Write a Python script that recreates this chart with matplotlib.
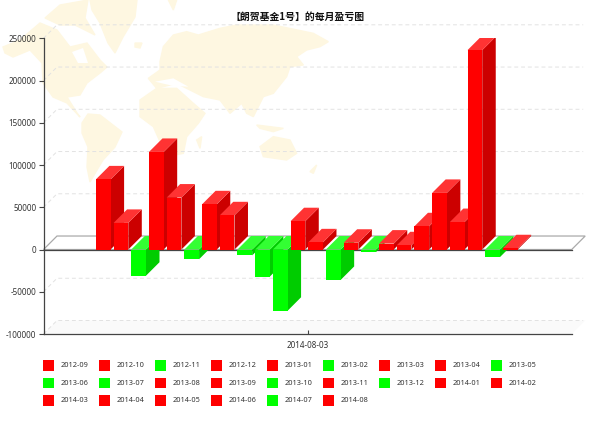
import matplotlib
matplotlib.use("Agg")
import matplotlib.pyplot as plt
from matplotlib.patches import Polygon, Rectangle

plt.rcParams['font.family'] = ['Noto Sans', 'DejaVu Sans']

months = ['2012-09', '2012-10', '2012-11', '2012-12', '2013-01', '2013-02', '2013-03', '2013-04',
          '2013-05', '2013-06', '2013-07', '2013-08', '2013-09', '2013-10', '2013-11', '2013-12',
          '2014-01', '2014-02', '2014-03', '2014-04', '2014-05', '2014-06', '2014-07', '2014-08']
values = [83000, 31500, -31000, 115500, 61500, -11500, 53500, 40500,
          -7000, -32000, -72500, 33500, 8500, -36000, 8000, -3000,
          7000, 5000, 27500, 67000, 32500, 236000, -9000, 1500]
y_ticks = [250000, 200000, 150000, 100000, 50000, 0, -50000, -100000]
title = '【朗贺基金1号】的每月盈亏图'
x_label = '2014-08-03'

W, H = 600, 424
fig = plt.figure(figsize=(W / 100, H / 100), dpi=100)

# pixel layer for the map and the legend
bg = fig.add_axes([0, 0, 1, 1], zorder=0)
bg.set_xlim(0, W)
bg.set_ylim(H, 0)
bg.axis('off')

map_col = '#fef7e1'


def east(pts):
    return [(140 + a / 3, b / 3) for a, b in pts]


world = [
    [(40, 23), (57, 30), (70, 47), (87, 43), (100, 60), (107, 67), (100, 73), (87, 83), (80, 95), (67, 97),
     (77, 113), (80, 117), (67, 103), (53, 97), (43, 83), (42, 63), (30, 50), (13, 57), (5, 53), (3, 47), (20, 40)],
    [(45, 18), (60, 5), (88, 0), (85, 18), (95, 35), (75, 25), (60, 25)],
    [(90, 0), (137, 0), (135, 17), (123, 37), (115, 53), (108, 43), (100, 23), (92, 10)],
    [(135, 43), (142, 43), (140, 48), (135, 47)],
    [(82, 123), (88, 114), (100, 115), (122, 132), (115, 147), (103, 160), (97, 170), (90, 182), (87, 167), (88, 147), (82, 133)],
    east([(60, 185), (70, 140), (100, 105), (140, 95), (175, 105), (240, 85), (290, 75), (400, 75), (520, 100),
          (565, 125), (540, 140), (500, 150), (470, 170), (490, 195), (450, 200), (440, 230), (400, 280), (370, 290),
          (340, 350), (320, 340), (305, 310), (270, 340), (240, 300), (190, 290), (150, 270), (110, 250), (50, 265),
          (25, 235), (60, 210)]),
    east([(0, 300), (50, 265), (110, 265), (160, 310), (195, 340), (175, 370), (140, 410), (130, 460), (80, 470),
          (40, 380), (0, 350)]),
    east([(170, 420), (185, 410), (180, 445)]),
    east([(350, 375), (430, 385), (400, 395), (360, 385)]),
    east([(360, 440), (400, 410), (450, 420), (470, 460), (440, 480), (370, 470)]),
    east([(510, 515), (530, 495), (520, 520)]),
    east([(85, 0), (110, 0), (100, 30)]),
]
for shape in world:
    bg.add_patch(Polygon(shape, closed=True, fc=map_col, ec=map_col, lw=1))
# hudson bay and the mediterranean
for shape in [[(72, 52), (83, 48), (88, 63), (78, 63)], east([(45, 245), (100, 235), (145, 260), (100, 258)])]:
    bg.add_patch(Polygon(shape, closed=True, fc='white', ec='none'))

col_up = ('#ff0000', '#cc0000', '#ff3333')
col_down = ('#00ff00', '#00cc00', '#33ff33')

# legend, 9 per row
for i, m in enumerate(months):
    lx = 43 + 56 * (i % 9)
    ly = 360 + 17.6 * (i // 9)
    bg.add_patch(Rectangle((lx, ly), 10.5, 10.5, fc=col_up[0] if values[i] >= 0 else col_down[0], ec='none'))
    bg.text(lx + 18, ly + 5.5, m, fontsize=5.3, color='#333333', va='center', ha='left')

bg.text(297.5, 17, title, fontsize=7.1, fontweight='bold', color='#111111', ha='center', va='center',
        family=['Noto Sans CJK SC', 'DejaVu Sans'])

# chart axes, x in months, y in money
left, right, top, bottom = 43.5, 571.7, 38.3, 334
ax = fig.add_axes([left / W, 1 - bottom / H, (right - left) / W, (bottom - top) / H], zorder=1)
ax.patch.set_alpha(0)
y_min, y_max = -100000, 250000
ax.set_ylim(y_min, y_max)
ax.set_xlim(-3.376, 26.47)
x0, x1 = ax.get_xlim()
px_x = (x1 - x0) / (right - left)
px_y = (y_max - y_min) / (bottom - top)
dx = 13.5 * px_x
dy = 13.5 * px_y
bar_w = 14.7 * px_x

for s in ['top', 'right']:
    ax.spines[s].set_visible(False)
for s in ['left', 'bottom']:
    ax.spines[s].set_color('#444444')
    ax.spines[s].set_linewidth(0.9)
ax.set_yticks(y_ticks)
ax.set_yticklabels([str(t) for t in y_ticks], fontsize=5.8, color='#333333')
ax.tick_params(axis='y', length=3.6, width=0.8, color='#444444', pad=1.5)
ax.set_xticks([11.55])
ax.set_xticklabels([x_label], fontsize=5.8, color='#333333')
ax.tick_params(axis='x', length=3, width=0.8, color='#444444', direction='in', pad=5)

# back wall grid
for t in y_ticks:
    if t == 0:
        continue
    ax.plot([x0, x0 + dx, x1 + dx * 0.85], [t, t + dy, t + dy], color='#e2e2e2', lw=0.7,
            ls=(0, (4, 3)), clip_on=False, zorder=1)
ax.add_patch(Polygon([(x0, y_min), (x0 + dx, y_min + dy), (x1 + dx, y_min + dy), (x1, y_min)],
                     closed=True, fc='#fafafa', ec='none', clip_on=False, zorder=0.5))

# zero floor
ax.add_patch(Polygon([(x0, 0), (x0 + dx, dy), (x1 + dx, dy), (x1, 0)], closed=True, fc='white',
                     ec='#aaaaaa', lw=0.9, clip_on=False, zorder=1.5))
ax.plot([x0, x1], [0, 0], color='#444444', lw=0.9, zorder=1.6, clip_on=False)

# bars, left to right so each one covers the side of the one before
for i, v in enumerate(values):
    front, side, lid = col_up if v >= 0 else col_down
    a = i - bar_w / 2
    b = a + bar_w
    z = 2 + i * 0.01
    top_v = max(v, 0)
    ax.add_patch(Polygon([(b, 0), (b + dx, dy), (b + dx, v + dy), (b, v)], closed=True, fc=side, ec='none', zorder=z))
    ax.add_patch(Polygon([(a, top_v), (a + dx, top_v + dy), (b + dx, top_v + dy), (b, top_v)], closed=True,
                         fc=lid, ec='none', zorder=z))
    ax.add_patch(Rectangle((a, 0), bar_w, v, fc=front, ec='none', zorder=z))

fig.savefig('out.png', dpi=100)
